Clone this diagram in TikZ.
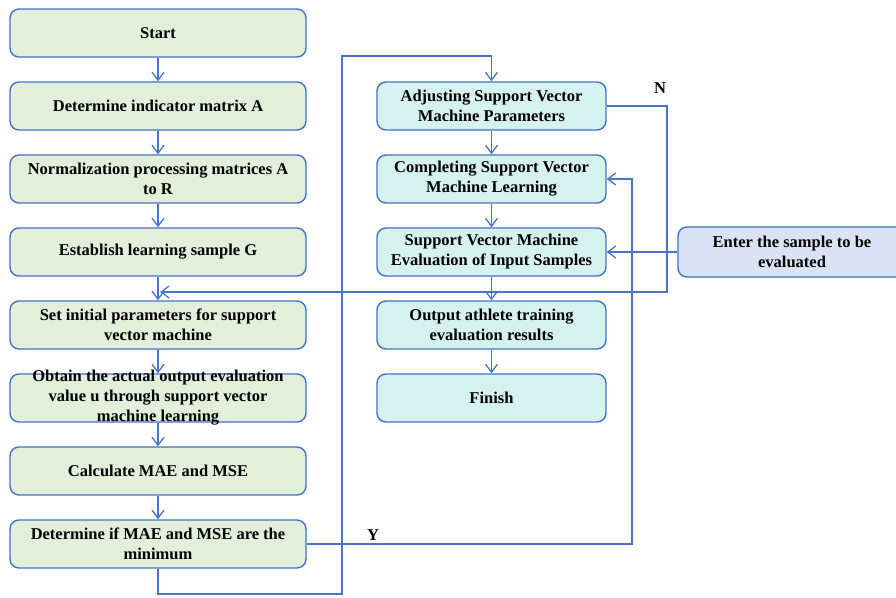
\documentclass[tikz,border=0pt]{standalone}
\usepackage{fontspec}
\setmainfont{Liberation Serif}
\usetikzlibrary{arrows.meta}
\definecolor{edgeblue}{HTML}{4A74CC}
\definecolor{boxline}{HTML}{4472C4}
\definecolor{greenfill}{HTML}{E2EFDA}
\definecolor{cyanfill}{HTML}{D6F2EF}
\definecolor{bluefill}{HTML}{DAE3F3}
\tikzset{
  base/.style={draw=boxline, line width=1.4pt, rounded corners=9pt, inner sep=0pt},
  lbox/.style={base, fill=greenfill, minimum width=296pt, minimum height=48pt},
  rbox/.style={base, fill=cyanfill, minimum width=229pt, minimum height=48pt},
  ebox/.style={base, fill=bluefill, minimum width=228pt, minimum height=50pt},
  txt/.style={font=\fontsize{16.5}{20}\selectfont\bfseries, align=center, inner sep=0pt},
  conn/.style={draw=edgeblue, line width=1.3pt},
  arr/.style={conn, -{Straight Barb[length=8pt,width=12pt,line width=1.3pt]}},
  lbl/.style={font=\fontsize{16.5}{20}\selectfont\bfseries, inner sep=0pt}
}
\begin{document}
\begin{tikzpicture}[x=1pt,y=1pt]
\useasboundingbox (0,0) rectangle (896,-597);
\clip (0,0) rectangle (896,-597);

% left column
\node[lbox] (b1) at (158,-33) {};
\node[lbox] (b2) at (158,-106) {};
\node[lbox] (b3) at (158,-179) {};
\node[lbox] (b4) at (158,-252) {};
\node[lbox] (b5) at (158,-325) {};
\node[lbox] (b6) at (158,-398) {};
\node[lbox] (b7) at (158,-471) {};
\node[lbox] (b8) at (158,-544) {};

\node[txt] (t1) at (b1) {Start};
\node[txt] (t2) at (b2) {Determine indicator matrix A};
\node[txt] (t3) at (b3) {Normalization processing matrices A\\to R};
\node[txt] (t4) at (b4) {Establish learning sample G};
\node[txt] (t5) at (b5) {Set initial parameters for support\\vector machine};
\node[txt] (t6) at (b6) {Obtain the actual output evaluation\\value u through support vector\\machine learning};
\node[txt] (t7) at (b7) {Calculate MAE and MSE};
\node[txt] (t8) at (b8) {Determine if MAE and MSE are the\\minimum};

% right column
\node[rbox] (r1) at (491.5,-106) {};
\node[rbox] (r2) at (491.5,-179) {};
\node[rbox] (r3) at (491.5,-252) {};
\node[rbox] (r4) at (491.5,-325) {};
\node[rbox] (r5) at (491.5,-398) {};

\node[txt] (s1) at (r1) {Adjusting Support Vector\\Machine Parameters};
\node[txt] (s2) at (r2) {Completing Support Vector\\Machine Learning};
\node[txt] (s3) at (r3) {Support Vector Machine\\Evaluation of Input Samples};
\node[txt] (s4) at (r4) {Output athlete training\\evaluation results};
\node[txt] (s5) at (r5) {Finish};

% sample input
\node[ebox] (en) at (792,-252) {};
\node[txt] (se) at (en) {Enter the sample to be\\evaluated};

% straight arrows in the columns
\foreach \a/\b in {b1/b2,b2/b3,b3/b4,b4/b5,b5/b6,b6/b7,b7/b8,r1/r2,r2/r3,r3/r4,r4/r5}
  \draw[arr] (\a.south) -- (\b.north);

% loop back: not minimum -> adjust parameters
\coordinate (lp1) at (342,-594);
\coordinate (lp2) at (342,-56);
\draw[arr] (b8.south) |- (lp1) -- (lp2) -| (r1.north);

% N branch back to the initial parameters
\coordinate (nc) at (667,-292);
\coordinate (join) at (160,-292);
\draw[arr] (r1.east) -| (nc) -- (join);
\node[lbl] (nl) at (660,-88) {N};

% Y branch to completing learning
\coordinate (yc) at (632,-179);
\draw[arr] (b8.east) -| (yc) -- (r2.east);
\node[lbl] (yl) at (373,-535) {Y};

% sample input arrow
\draw[arr] (en.west) -- (r3.east);
\end{tikzpicture}
\end{document}
